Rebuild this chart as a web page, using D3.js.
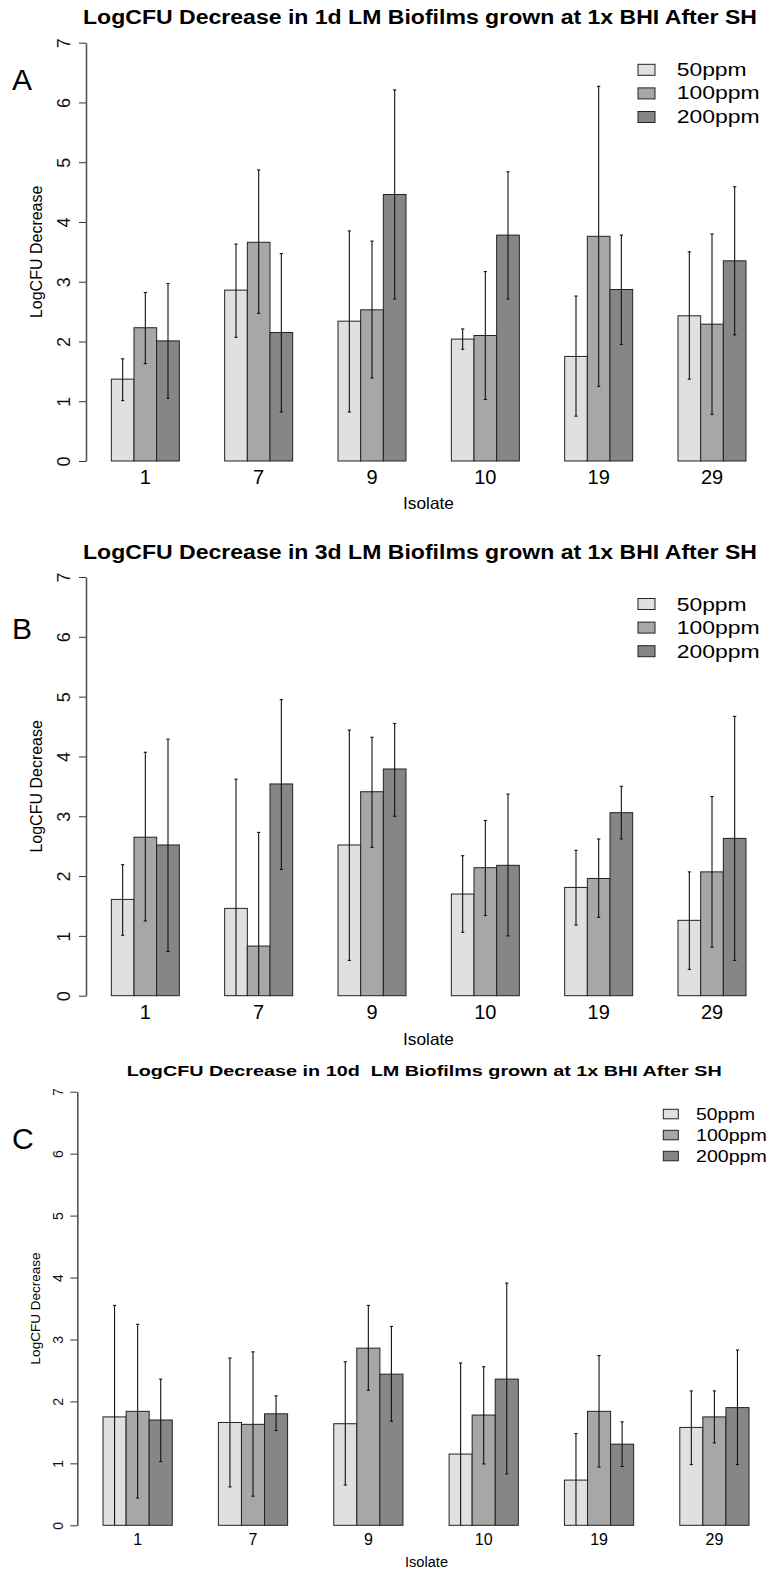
<!DOCTYPE html>
<html><head><meta charset="utf-8">
<script src="https://cdn.jsdelivr.net/npm/d3@7"></script>
<style>body{margin:0;background:#fff}svg{display:block}text{font-family:"Liberation Sans",Arial,Helvetica,sans-serif;white-space:pre}</style>
</head><body><svg id="c" width="772" height="1570"></svg>
<script>
const isolates = ["1","7","9","10","19","29"];
const doses = ["50ppm","100ppm","200ppm"];
const doseColors = ["#e0e0e0","#a7a7a7","#868686"];
const yTicks = [0,1,2,3,4,5,6,7];
const titles = [
  "LogCFU Decrease in 1d LM Biofilms grown at 1x BHI After SH",
  "LogCFU Decrease in 3d LM Biofilms grown at 1x BHI After SH",
  "LogCFU Decrease in 10d  LM Biofilms grown at 1x BHI After SH"
];
const panelLetters = ["A","B","C"];
// mean per isolate: [50ppm, 100ppm, 200ppm]
const meanA = [[1.37,2.23,2.01],[2.86,3.66,2.15],[2.34,2.53,4.46],[2.04,2.10,3.78],[1.75,3.76,2.87],[2.43,2.29,3.35]];
const hiA   = [[1.71,2.82,2.97],[3.63,4.87,3.47],[3.85,3.68,6.21],[2.21,3.17,4.84],[2.76,6.27,3.78],[3.50,3.80,4.59]];
const loA   = [[1.01,1.63,1.05],[2.07,2.47,0.82],[0.82,1.39,2.71],[1.87,1.03,2.71],[0.75,1.25,1.95],[1.37,0.78,2.11]];
const meanB = [[1.61,2.65,2.52],[1.46,0.83,3.54],[2.52,3.41,3.79],[1.70,2.14,2.18],[1.81,1.96,3.06],[1.26,2.07,2.63]];
const hiB   = [[2.19,4.07,4.29],[3.62,2.73,4.95],[4.44,4.32,4.55],[2.34,2.93,3.37],[2.43,2.62,3.50],[2.07,3.33,4.67]];
const loB   = [[1.01,1.25,0.74],[0.00,0.00,2.11],[0.59,2.48,3.00],[1.06,1.34,1.00],[1.18,1.31,2.62],[0.44,0.81,0.59]];
const meanC = [[1.75,1.84,1.70],[1.66,1.63,1.80],[1.64,2.86,2.44],[1.15,1.78,2.36],[0.73,1.84,1.31],[1.58,1.75,1.90]];
const hiC   = [[3.55,3.245,2.36],[2.70,2.80,2.09],[2.64,3.55,3.21],[2.62,2.56,3.91],[1.48,2.74,1.67],[2.17,2.17,2.83]];
const loC   = [[0.00,0.44,1.03],[0.62,0.47,1.53],[0.65,2.18,1.68],[0.00,0.99,0.83],[0.00,0.94,0.95],[0.98,1.33,0.98]];

const svg = d3.select("#c");

const layouts = [
  {mean:meanA,hi:hiA,lo:loA,y0:461,y7:42.7,xr:[66,746],axisX:86,tickLabX:-16,tickFont:18,
   titleY:24,titleX:[83,757],titleFont:19.5,letterY:90,letterFont:30,
   xlabY:484.3,xlabFont:20,isoY:509.3,isoX:[403,454],isoFont:16.5,ylabX:41.7,ylabFont:16,
   legX:638,legW:17,legH:11,legY:64.3,legDy:23.6,legTx:676.7,legTy:75.5,legFont:18.5,legTW:[70,83,83]},
  {mean:meanB,hi:hiB,lo:loB,y0:995.7,y7:577,xr:[66,746],axisX:86,tickLabX:-16,tickFont:18,
   titleY:558.5,titleX:[83,757],titleFont:19.5,letterY:639,letterFont:30,
   xlabY:1019.3,xlabFont:20,isoY:1044.5,isoX:[403,454],isoFont:16.5,ylabX:41.7,ylabFont:16,
   legX:638,legW:17,legH:11,legY:598.5,legDy:23.6,legTx:676.7,legTy:610.5,legFont:18.5,legTW:[70,83,83]},
  {mean:meanC,hi:hiC,lo:loC,y0:1525.3,y7:1091.7,xr:[56.9,749],axisX:77.3,tickLabX:-14,tickFont:14,
   titleY:1076,titleX:[126.7,721.7],titleFont:15.4,letterY:1149,letterFont:30,
   xlabY:1545,xlabFont:16,isoY:1566.5,isoX:[405,448],isoFont:14,ylabX:40,ylabFont:13.5,
   legX:663.3,legW:15,legH:9.5,legY:1109.3,legDy:21,legTx:696,legTy:1119.8,legFont:16,legTW:[59,70.7,70.7]}
];

layouts.forEach((L, p) => {
  const g = svg.append("g");
  const y = d3.scaleLinear().domain([0,7]).range([L.y0, L.y7]);
  const x = d3.scaleLinear().domain([0,30]).range(L.xr);
  const unit = x(1) - x(0);

  // title
  g.append("text").attr("x", L.titleX[0]).attr("y", L.titleY)
    .attr("xml:space","preserve")
    .attr("font-size", L.titleFont).attr("font-weight","bold")
    .attr("textLength", L.titleX[1]-L.titleX[0]).attr("lengthAdjust","spacingAndGlyphs")
    .text(titles[p]);
  // panel letter
  g.append("text").attr("x", 12).attr("y", L.letterY).attr("font-size", L.letterFont).text(panelLetters[p]);

  // y axis
  const ax = g.append("g").attr("transform", `translate(${L.axisX},0)`)
    .call(d3.axisLeft(y).tickValues(yTicks).tickFormat(d3.format("d")).tickSize(7).tickSizeOuter(0));
  ax.select(".domain").attr("stroke","#555").attr("stroke-width",1.6);
  ax.selectAll(".tick line").attr("stroke","#333").attr("stroke-width",1);
  ax.selectAll(".tick text").attr("x",0).attr("dy",0).attr("fill","#111")
    .attr("text-anchor","middle").attr("font-size",L.tickFont)
    .attr("font-family",'"Liberation Sans",Arial,sans-serif')
    .attr("transform", `translate(${L.tickLabX},0) rotate(-90)`);

  // y label
  g.append("text").attr("transform", `translate(${L.ylabX},${(L.y0+L.y7)/2}) rotate(-90)`)
    .attr("text-anchor","middle").attr("font-size", L.ylabFont).text("LogCFU Decrease");

  // bars
  isolates.forEach((iso, i) => {
    doses.forEach((d, j) => {
      const u = 2 + 5*i + j;
      const v = L.mean[i][j];
      g.append("rect").attr("x", x(u)).attr("y", y(v)).attr("width", unit).attr("height", y(0)-y(v))
        .attr("fill", doseColors[j]).attr("stroke","#222").attr("stroke-width",1);
    });
  });
  // error bars
  isolates.forEach((iso, i) => {
    doses.forEach((d, j) => {
      const cx = x(2 + 5*i + j + 0.5);
      const hi = L.hi[i][j], lo = L.lo[i][j];
      g.append("line").attr("x1",cx).attr("x2",cx).attr("y1",y(hi)).attr("y2",y(lo))
        .attr("stroke","#111").attr("stroke-width",1.1);
      g.append("line").attr("x1",cx-1.6).attr("x2",cx+1.6).attr("y1",y(hi)).attr("y2",y(hi))
        .attr("stroke","#111").attr("stroke-width",1.1);
      if (lo > 0) g.append("line").attr("x1",cx-1.6).attr("x2",cx+1.6).attr("y1",y(lo)).attr("y2",y(lo))
        .attr("stroke","#111").attr("stroke-width",1.1);
    });
    g.append("text").attr("x", x(2+5*i+1.5)).attr("y", L.xlabY).attr("text-anchor","middle")
      .attr("font-size", L.xlabFont).text(iso);
  });

  // x label
  g.append("text").attr("x", L.isoX[0]).attr("y", L.isoY).attr("font-size", L.isoFont)
    .attr("textLength", L.isoX[1]-L.isoX[0]).attr("lengthAdjust","spacingAndGlyphs").text("Isolate");

  // legend
  doses.forEach((d, j) => {
    g.append("rect").attr("x", L.legX).attr("y", L.legY + j*L.legDy).attr("width", L.legW).attr("height", L.legH)
      .attr("fill", doseColors[j]).attr("stroke","#222").attr("stroke-width",1);
    g.append("text").attr("x", L.legTx).attr("y", L.legTy + j*L.legDy).attr("font-size", L.legFont)
      .attr("textLength", L.legTW[j]).attr("lengthAdjust","spacingAndGlyphs").text(d);
  });
});
</script></body></html>
